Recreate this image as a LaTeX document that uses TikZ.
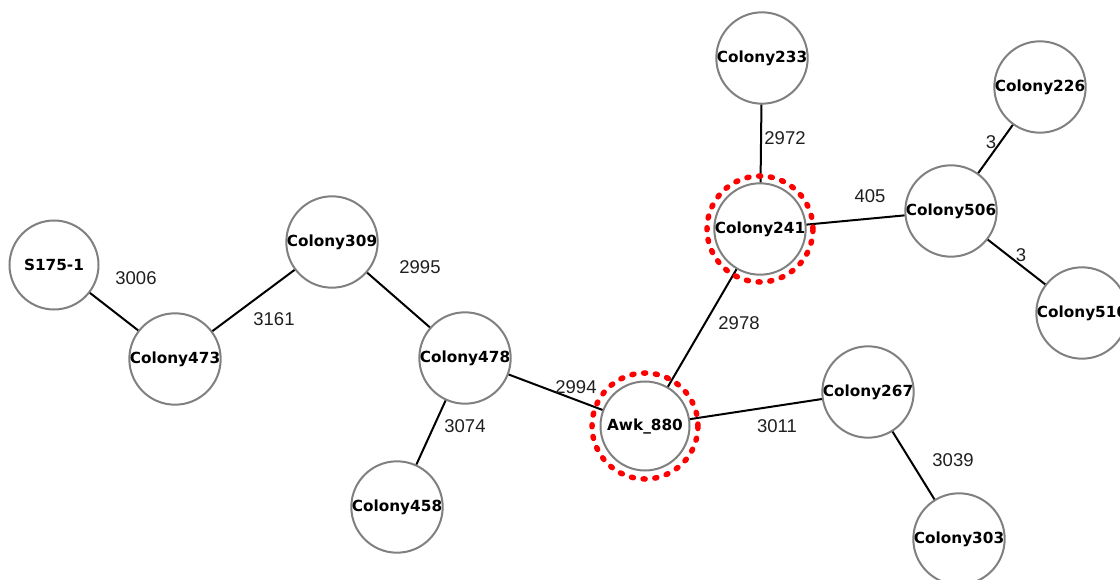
\documentclass[tikz,border=0pt]{standalone}
\usepackage{fontspec}
\setmainfont{Liberation Sans}
\newfontfamily\nodefont{DejaVu Sans}
\definecolor{nodegray}{HTML}{808080}
\begin{document}
\begin{tikzpicture}[x=1pt,y=-1pt,
  colony/.style={circle, draw=nodegray, line width=2pt, fill=white, minimum size=89pt, inner sep=0pt,
    font=\nodefont\bfseries\fontsize{15.3}{15.3}\selectfont},
  link/.style={black, line width=2pt},
  wt/.style={font=\fontsize{18.5}{18.5}\selectfont, inner sep=0pt, text=black!88},
  hl/.style={red, line width=5.5pt, dash pattern=on 2pt off 9.8pt, line cap=round}]
\useasboundingbox[fill=white] (0,0) rectangle (1120,580);
\clip (0,0) rectangle (1120,580);
% nodes
\node[colony] (s175) at (54,265) {S175-1};
\node[colony] (c473) at (175,359) {Colony473};
\node[colony] (c309) at (332,242) {Colony309};
\node[colony] (c478) at (465,358) {Colony478};
\node[colony] (c458) at (397,507) {Colony458};
\node[colony] (awk) at (645,426) {Awk\_880};
\node[colony] (c241) at (760,229) {Colony241};
\node[colony] (c233) at (762,58) {Colony233};
\node[colony] (c506) at (951,211) {Colony506};
\node[colony] (c226) at (1040,87) {Colony226};
\node[colony] (c510) at (1082,313) {Colony510};
\node[colony] (c267) at (868,392) {Colony267};
\node[colony] (c303) at (959,539) {Colony303};
% edges
\draw[link] (s175) -- (c473);
\draw[link] (c473) -- (c309);
\draw[link] (c309) -- (c478);
\draw[link] (c478) -- (c458);
\draw[link] (c478) -- (awk);
\draw[link] (awk) -- (c241);
\draw[link] (c241) -- (c233);
\draw[link] (c241) -- (c506);
\draw[link] (c506) -- (c226);
\draw[link] (c506) -- (c510);
\draw[link] (awk) -- (c267);
\draw[link] (c267) -- (c303);
% highlight rings
\draw[hl] (awk.center) circle (53pt);
\draw[hl] (c241.center) circle (53pt);
% edge weights
\node[wt] (w1) at (136,278) {3006};
\node[wt] (w2) at (274,319) {3161};
\node[wt] (w3) at (420,267) {2995};
\node[wt] (w4) at (465,426) {3074};
\node[wt] (w5) at (576,387) {2994};
\node[wt] (w6) at (739,323) {2978};
\node[wt] (w7) at (785,138) {2972};
\node[wt] (w8) at (870,196) {405};
\node[wt] (w9) at (991,142) {3};
\node[wt] (w10) at (1021,255) {3};
\node[wt] (w11) at (777,426) {3011};
\node[wt] (w12) at (953,460) {3039};
\end{tikzpicture}
\end{document}
